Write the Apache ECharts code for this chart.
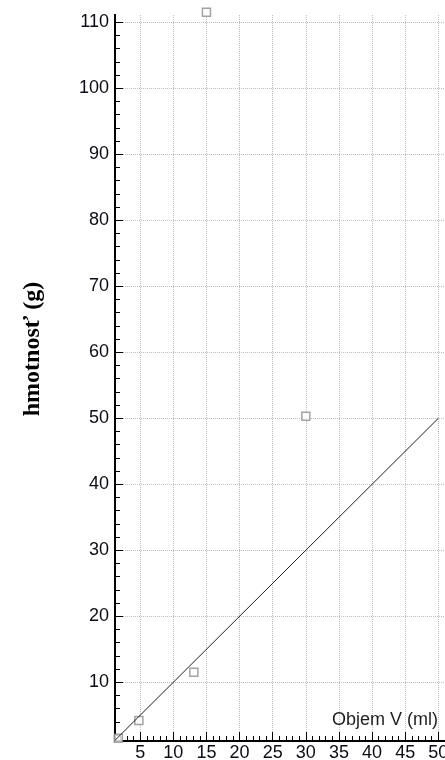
<!DOCTYPE html>
<html>
<head>
<meta charset="utf-8">
<script src="https://cdn.jsdelivr.net/npm/echarts@6/dist/echarts.min.js"></script>
<style>
  html, body { margin: 0; padding: 0; background: #fff; }
  #chart { width: 445px; height: 760px; }
</style>
</head>
<body>
<div id="chart"></div>
<script>
// Measured samples: volume (ml) vs. mass (g)
const volume = [1.7, 4.8, 13.1, 15, 30];
const mass   = [1.5, 4.2, 11.5, 111.5, 50.3];

// Reference line m = V (density 1 g/ml)
const refLineX = [1.2, 50];
const refLineY = [1.2, 50];

// Axis ranges and labelled ticks
const xRange = [1.2, 51];
const yRange = [1.1, 111.1];
const xMajorTicks = [5, 10, 15, 20, 25, 30, 35, 40, 45, 50];
const yMajorTicks = [10, 20, 30, 40, 50, 60, 70, 80, 90, 100, 110];
const xMinorTicks = [];
for (let v = 2; v <= 51; v += 1) xMinorTicks.push(v);
const yMinorTicks = [];
for (let v = 2; v <= 110; v += 2) yMinorTicks.push(v);

const textFont = '"Liberation Sans", Arial, sans-serif';
const labelColor = '#0c0c14';
const gridColor = '#bdbdbd';

function axisBase(range) {
  return {
    type: 'value',
    min: range[0],
    max: range[1],
    axisLine: { show: true, onZero: false, lineStyle: { color: '#000', width: 2 } },
  };
}

const chart = echarts.init(document.getElementById('chart'), null, { renderer: 'canvas' });

chart.setOption({
  animation: false,
  backgroundColor: '#fff',
  grid: { left: 115, right: 0, top: 15, bottom: 19, containLabel: false, outerBoundsMode: 'none' },
  xAxis: [
    Object.assign(axisBase(xRange), {
      position: 'bottom',
      axisTick: { show: true, inside: true, length: 9, customValues: xMajorTicks, lineStyle: { color: '#000', width: 1 } },
      axisLabel: { show: true, customValues: xMajorTicks, margin: 3, fontSize: 18, fontFamily: textFont, color: labelColor },
      splitLine: { show: true, lineStyle: { color: gridColor, width: 1, type: [1, 1] } }
    }),
    Object.assign(axisBase(xRange), {
      position: 'bottom',
      axisTick: { show: true, inside: true, length: 5, customValues: xMinorTicks, lineStyle: { color: '#000', width: 1 } },
      axisLabel: { show: false },
      splitLine: { show: false }
    })
  ],
  yAxis: [
    Object.assign(axisBase(yRange), {
      position: 'left',
      axisTick: { show: true, inside: true, length: 8, customValues: yMajorTicks, lineStyle: { color: '#000', width: 1 } },
      axisLabel: { show: true, customValues: yMajorTicks, margin: 6, fontSize: 18, fontFamily: textFont, color: labelColor },
      splitLine: { show: true, lineStyle: { color: gridColor, width: 1, type: [1, 1] } }
    }),
    Object.assign(axisBase(yRange), {
      position: 'left',
      axisTick: { show: true, inside: true, length: 5, customValues: yMinorTicks, lineStyle: { color: '#000', width: 1 } },
      axisLabel: { show: false },
      splitLine: { show: false }
    })
  ],
  graphic: [
    {
      type: 'text',
      x: 438, y: 720,
      style: {
        text: 'Objem V (ml)',
        align: 'right', verticalAlign: 'middle',
        font: '18px ' + textFont,
        fill: '#1e1e1e'
      },
      z: 10
    },
    {
      type: 'text',
      x: 33, y: 349,
      rotation: Math.PI / 2,
      style: {
        text: 'hmotnosť (g)',
        align: 'center', verticalAlign: 'middle',
        font: 'bold 24px "Liberation Serif", "Times New Roman", serif',
        fill: '#000'
      }
    }
  ],
  series: [
    {
      type: 'line',
      xAxisIndex: 0, yAxisIndex: 0,
      data: refLineX.map((x, i) => [x, refLineY[i]]),
      symbol: 'none',
      lineStyle: { color: '#1e1e1e', width: 1 },
      clip: true,
      z: 3
    },
    {
      type: 'scatter',
      xAxisIndex: 0, yAxisIndex: 0,
      data: volume.map((v, i) => [v, mass[i]]),
      symbol: 'rect',
      symbolSize: 8,
      clip: false,
      itemStyle: { color: '#fff', borderColor: '#8c8c8c', borderWidth: 1.5 },
      z: 2
    }
  ]
});
</script>
</body>
</html>
